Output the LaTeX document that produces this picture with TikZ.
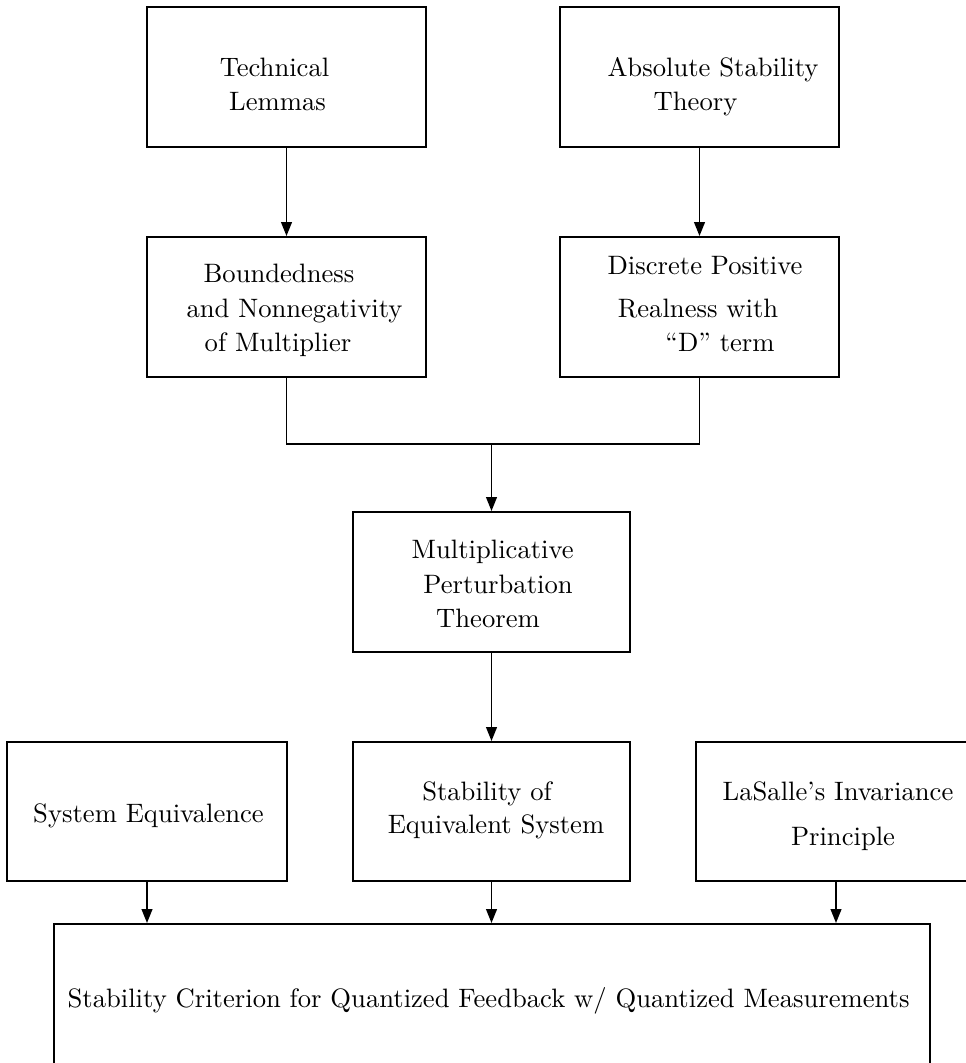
\documentclass[tikz,border=0pt]{standalone}
\usepackage{fontspec}
\usetikzlibrary{arrows.meta,fit}
\begin{document}
\begin{tikzpicture}[x=0.390625pt,y=-0.390625pt,
  box/.style={draw,line width=0.8pt,inner sep=0pt},
  wire/.style={draw,line width=0.6pt},
  arr/.style={wire,-{Triangle[length=5.4pt,width=4.2pt]}},
  lbl/.style={anchor=base,inner sep=0pt,font=\fontsize{10.4}{13}\selectfont}]
  \clip (0,0) rectangle (966,1063);

  % boxes
  \node[box,fit={(147,7) (426,147)}]   (tech)    {};
  \node[box,fit={(560,7) (839,147)}]   (abs)     {};
  \node[box,fit={(147,237) (426,377)}] (bound)   {};
  \node[box,fit={(560,237) (839,377)}] (disc)    {};
  \node[box,fit={(353,512) (630,652)}] (mult)    {};
  \node[box,fit={(7,742) (287,881)}]   (syseq)   {};
  \node[box,fit={(353,742) (630,881)}] (stabeq)  {};
  \node[box,fit={(696,742) (976,881)}] (lasalle) {};
  \node[box,fit={(54,924) (930,1100)}] (crit)    {};

  % box texts, one node per line
  \node[lbl] (techA) at (274.5,77) {Technical};
  \node[lbl] (techB) at (277.5,111) {Lemmas};
  \node[lbl] (absA) at (713,77) {Absolute Stability};
  \node[lbl] (absB) at (695.5,111) {Theory};
  \node[lbl] (boundA) at (279,283) {Boundedness};
  \node[lbl] (boundB) at (294.5,318) {and Nonnegativity};
  \node[lbl] (boundC) at (278,352) {of Multiplier};
  \node[lbl] (discA) at (705,275) {Discrete Positive};
  \node[lbl] (discB) at (698,318) {Realness with};
  \node[lbl] (discC) at (720,352) {``D'' term};
  \node[lbl] (multA) at (492.7,558) {Multiplicative};
  \node[lbl] (multB) at (498,593) {Perturbation};
  \node[lbl] (multC) at (488,627) {Theorem};
  \node[lbl] (syseqA) at (148.5,822) {System Equivalence};
  \node[lbl] (stabeqA) at (487,800) {Stability of};
  \node[lbl] (stabeqB) at (496,833) {Equivalent System};
  \node[lbl] (lasalleA) at (838,800) {LaSalle's Invariance};
  \node[lbl] (lasalleB) at (843,845) {Principle};
  \node[lbl] (critA) at (488.6,1007) {Stability Criterion for Quantized Feedback w/ Quantized Measurements};

  % connectors
  \coordinate (merge) at (491.5,444);
  \draw[arr] (tech.south) -- (bound.north);
  \draw[arr] (abs.south) -- (disc.north);
  \draw[wire] (bound.south) |- (merge) -| (disc.south);
  \draw[arr] (merge) -- (mult.north);
  \draw[arr] (mult.south) -- (stabeq.north);
  \draw[arr] (syseq.south) -- (syseq.south |- crit.north);
  \draw[arr] (stabeq.south) -- (stabeq.south |- crit.north);
  \draw[arr] (lasalle.south) -- (lasalle.south |- crit.north);
\end{tikzpicture}
\end{document}
